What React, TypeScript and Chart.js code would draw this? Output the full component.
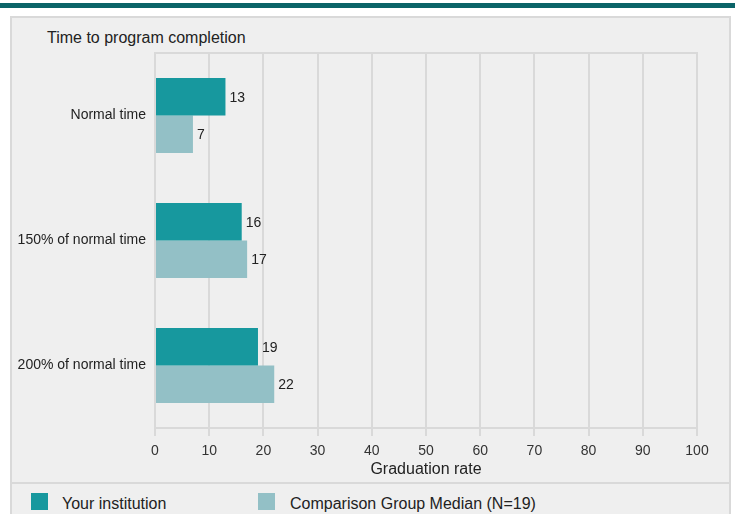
import React, { useEffect, useRef } from "react";
import { Chart, registerables } from "chart.js";

Chart.register(...registerables);

const categories = ["Normal time", "150% of normal time", "200% of normal time"];
const yourInstitution = [13, 16, 19];
const comparisonMedian = [7, 17, 22];
const seriesNames = ["Your institution", "Comparison Group Median (N=19)"];
const xMin = 0;
const xMax = 100;
const xStep = 10;
const chartTitle = "Time to program completion";
const xAxisTitle = "Graduation rate";

const TEAL = "#17989e";
const LIGHT = "#93c0c6";
const GRID = "#d9d9d9";
const FONT = "Arial, 'Liberation Sans', Helvetica, sans-serif";

const valueLabels = {
  id: "valueLabels",
  afterDatasetsDraw(chart: any) {
    const ctx = chart.ctx;
    ctx.save();
    ctx.font = "14px " + FONT;
    ctx.fillStyle = "#222";
    ctx.textAlign = "left";
    ctx.textBaseline = "middle";
    chart.data.datasets.forEach((ds: any, i: number) => {
      const meta = chart.getDatasetMeta(i);
      meta.data.forEach((bar: any, j: number) => {
        ctx.fillText(String(ds.data[j]), bar.x + 4, bar.y + 1);
      });
    });
    ctx.restore();
  },
};

const topFrame = {
  id: "topFrame",
  beforeDatasetsDraw(chart: any) {
    const { ctx, chartArea } = chart;
    ctx.save();
    ctx.strokeStyle = GRID;
    ctx.lineWidth = 2;
    ctx.beginPath();
    ctx.moveTo(chartArea.left - 1, chartArea.top);
    ctx.lineTo(chartArea.right + 1, chartArea.top);
    ctx.stroke();
    ctx.restore();
  },
};

export default function App() {
  const ref = useRef<HTMLCanvasElement | null>(null);

  useEffect(() => {
    if (!ref.current) return;
    const chart = new Chart(ref.current, {
      type: "bar",
      data: {
        labels: categories,
        datasets: [
          {
            label: seriesNames[0],
            data: yourInstitution,
            backgroundColor: TEAL,
            borderWidth: 0,
            categoryPercentage: 0.6,
            barPercentage: 1,
          },
          {
            label: seriesNames[1],
            data: comparisonMedian,
            backgroundColor: LIGHT,
            borderWidth: 0,
            categoryPercentage: 0.6,
            barPercentage: 1,
          },
        ],
      },
      options: {
        indexAxis: "y",
        responsive: false,
        animation: false,
        devicePixelRatio: 1,
        layout: { padding: { top: 53, right: 38, left: 0, bottom: 0 } },
        plugins: {
          legend: { display: false },
          tooltip: { enabled: false },
          title: { display: false },
        },
        scales: {
          x: {
            min: xMin,
            max: xMax,
            ticks: {
              stepSize: xStep,
              color: "#333",
              font: { size: 14, family: FONT },
              padding: 7,
            },
            grid: {
              color: GRID,
              lineWidth: 2,
              tickLength: 8,
              drawTicks: true,
            },
            border: { display: true, color: GRID, width: 2 },
            title: {
              display: true,
              text: xAxisTitle,
              color: "#222",
              font: { size: 16, family: FONT },
              padding: { top: 0, bottom: 1 },
            },
            afterFit(scale: any) {
              scale.height = 52;
            },
          },
          y: {
            ticks: {
              color: "#222",
              font: { size: 14, family: FONT },
              padding: 9,
            },
            grid: { display: false, drawTicks: false },
            border: { display: false },
            afterFit(scale: any) {
              scale.width = 155;
            },
          },
        },
      },
      plugins: [valueLabels, topFrame],
    } as any);
    return () => chart.destroy();
  }, []);

  return (
    <div
      style={{
        position: "fixed",
        left: 0,
        top: 0,
        width: 735,
        height: 514,
        background: "#fff",
        overflow: "hidden",
        fontFamily: FONT,
      }}
    >
      <div style={{ position: "absolute", left: 0, top: 3, width: 735, height: 5, background: "#0b6468" }} />
      <div
        style={{
          position: "absolute",
          left: 10,
          top: 16,
          width: 721,
          height: 530,
          background: "#efefef",
          border: "2px solid " + GRID,
          boxSizing: "border-box",
        }}
      />
      <div style={{ position: "absolute", left: 12, top: 482, width: 717, height: 2, background: GRID }} />
      <div
        style={{
          position: "absolute",
          left: 47,
          top: 28,
          fontSize: 16,
          lineHeight: "19px",
          color: "#222",
          whiteSpace: "nowrap",
        }}
      >
        {chartTitle}
      </div>
      <canvas
        ref={ref}
        width={735}
        height={480}
        style={{ position: "absolute", left: 0, top: 0, width: 735, height: 480 }}
      />
      <div style={{ position: "absolute", left: 31, top: 493, width: 17, height: 17, background: TEAL }} />
      <div
        style={{ position: "absolute", left: 62, top: 494, fontSize: 16, lineHeight: "19px", color: "#222", whiteSpace: "nowrap" }}
      >
        {seriesNames[0]}
      </div>
      <div style={{ position: "absolute", left: 258, top: 493, width: 17, height: 17, background: LIGHT }} />
      <div
        style={{ position: "absolute", left: 290, top: 494, fontSize: 16, lineHeight: "19px", color: "#222", whiteSpace: "nowrap" }}
      >
        {seriesNames[1]}
      </div>
    </div>
  );
}
